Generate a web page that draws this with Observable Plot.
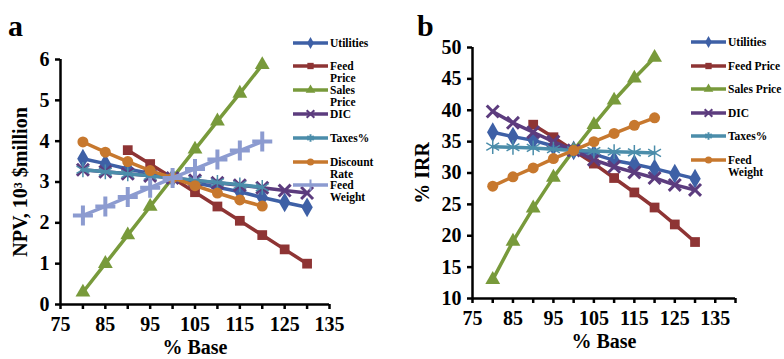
<!DOCTYPE html>
<html><head><meta charset="utf-8">
<script src="https://cdn.jsdelivr.net/npm/d3@7"></script>
<script src="https://cdn.jsdelivr.net/npm/@observablehq/plot@0.6"></script>
<style>
body{margin:0;background:#fff;}
#wrap{position:relative;width:784px;height:359px;overflow:hidden;font-family:"Liberation Serif","Times New Roman",serif;font-weight:bold;color:#000;}
.panel{position:absolute;top:0;width:392px;height:359px;}
.letter{position:absolute;font-size:30px;line-height:30px;}
.item{position:absolute;display:flex;align-items:flex-start;font-size:11.5px;line-height:12px;}
.item svg{flex:none;margin-top:-1px;}
</style></head>
<body><div id="wrap"></div>
<script>
// ---------- data ----------
const xFull  = [80, 85, 90, 95, 100, 105, 110, 115, 120, 125, 130];
const xShort = [80, 85, 90, 95, 100, 105, 110, 115, 120];
const xFeed  = [90, 95, 100, 105, 110, 115, 120, 125, 130];

const seriesA = ["Utilities", "Feed Price", "Sales Price", "DIC", "Taxes%", "Discount Rate", "Feed Weight"];
const npvUtilities  = [3.57, 3.45, 3.32, 3.21, 3.10, 2.98, 2.87, 2.76, 2.62, 2.50, 2.38];
const npvFeedPrice  = [3.78, 3.44, 3.10, 2.75, 2.40, 2.05, 1.70, 1.35, 1.00];
const npvSalesPrice = [0.30, 1.00, 1.70, 2.40, 3.10, 3.80, 4.49, 5.17, 5.87];
const npvDIC        = [3.30, 3.25, 3.20, 3.15, 3.10, 3.04, 2.98, 2.92, 2.86, 2.79, 2.73];
const npvTaxes      = [3.30, 3.25, 3.20, 3.15, 3.10, 3.04, 2.99, 2.93, 2.87];
const npvDiscount   = [3.98, 3.73, 3.50, 3.28, 3.10, 2.91, 2.73, 2.56, 2.41];
const npvFeedWeight = [2.18, 2.40, 2.63, 2.86, 3.10, 3.32, 3.55, 3.77, 3.99];

const seriesB = ["Utilities", "Feed Price", "Sales Price", "DIC", "Taxes%", "Feed Weight"];
const irrUtilities  = [36.5, 35.8, 35.2, 34.3, 33.6, 33.0, 32.0, 31.4, 30.7, 29.9, 29.1];
const irrFeedPrice  = [37.7, 35.7, 33.6, 31.5, 29.2, 26.9, 24.5, 21.8, 19.0];
const irrSalesPrice = [13.0, 19.1, 24.4, 29.3, 33.6, 37.7, 41.6, 45.1, 48.4];
const irrDIC        = [39.8, 38.0, 36.5, 35.0, 33.6, 32.1, 31.0, 30.1, 29.2, 28.1, 27.3];
const irrTaxes      = [34.2, 34.1, 34.0, 33.8, 33.6, 33.5, 33.4, 33.3, 33.2];
const irrFeedWeight = [27.9, 29.4, 30.8, 32.3, 33.6, 35.0, 36.3, 37.6, 38.8];

const xTicksA = [75, 80, 85, 90, 95, 100, 105, 110, 115, 120, 125, 130, 135];
const xTicksB = [75, 80, 85, 90, 95, 100, 105, 110, 115, 120, 125, 130, 135, 140];
const yTicksA = [0, 1, 2, 3, 4, 5, 6];
const yTicksB = [10, 15, 20, 25, 30, 35, 40, 45, 50];

// ---------- styles ----------
const sty = {
  "Utilities":     {color: "#3E60A6", symbol: "diamond",  r: 6,   filled: true},
  "Feed Price":    {color: "#8E3434", symbol: "square",   r: 5.5, filled: true},
  "Sales Price":   {color: "#789A3B", symbol: "triangle", r: 5.5, filled: true},
  "DIC":           {color: "#5C3C7E", symbol: "times",    r: 5.5, filled: false, sw: 3},
  "Taxes%":        {color: "#4B8DAA", symbol: "asterisk", r: 7,   filled: false, sw: 1.5},
  "Discount Rate": {color: "#C7782E", symbol: "circle",   r: 5.5, filled: true},
  "Feed Weight":   {color: "#8C9BD0", symbol: "plus",     r: 6.5, filled: false, sw: 4}
};
const styB = Object.assign({}, sty, {"Feed Weight": {color: "#C7782E", symbol: "circle", r: 5.5, filled: true}});

function rows(xs, ys, name) { return xs.map((x, i) => ({x, y: ys[i], name})); }
const dataA = [
  rows(xFull, npvUtilities, "Utilities"), rows(xFeed, npvFeedPrice, "Feed Price"),
  rows(xShort, npvSalesPrice, "Sales Price"), rows(xFull, npvDIC, "DIC"),
  rows(xShort, npvTaxes, "Taxes%"), rows(xShort, npvDiscount, "Discount Rate"),
  rows(xShort, npvFeedWeight, "Feed Weight")
];
const dataB = [
  rows(xFull, irrUtilities, "Utilities"), rows(xFeed, irrFeedPrice, "Feed Price"),
  rows(xShort, irrSalesPrice, "Sales Price"), rows(xFull, irrDIC, "DIC"),
  rows(xShort, irrTaxes, "Taxes%"), rows(xShort, irrFeedWeight, "Feed Weight")
];

const FONT = '"Liberation Serif","Times New Roman",serif';

function seriesMarks(data, styles) {
  const m = [];
  for (const d of data) {
    const s = styles[d[0].name];
    m.push(Plot.line(d, {x: "x", y: "y", stroke: s.color, strokeWidth: 3.5}));
    if (s.filled) m.push(Plot.dot(d, {x: "x", y: "y", symbol: s.symbol, r: s.r, fill: s.color, stroke: "none"}));
    else m.push(Plot.dot(d, {x: "x", y: "y", symbol: s.symbol, r: s.r, fill: "none", stroke: s.color, strokeWidth: s.sw}));
  }
  return m;
}

function makePlot(o) {
  return Plot.plot({
    width: 392, height: 359,
    marginLeft: o.ml, marginRight: o.mr, marginTop: o.mt, marginBottom: o.mb,
    style: {fontFamily: FONT, fontWeight: "bold", fontSize: "20px", background: "transparent", overflow: "visible", color: "#000"},
    x: {domain: o.xdom},
    y: {domain: o.ydom},
    marks: [
      Plot.axisX({ticks: o.xticks, tickSize: 5, tickPadding: 7, strokeWidth: 2.5, tickFormat: d => (d % 10 === 5 ? String(d) : ""), label: null}),
      Plot.axisY({ticks: o.yticks, tickSize: 5, tickPadding: 6, strokeWidth: 2.5, tickFormat: d => String(d), label: null}),
      ...seriesMarks(o.data, o.styles),
      Plot.ruleX([o.xdom[0]], {stroke: "#000", strokeWidth: 2.5}),
      Plot.ruleY([o.ydom[0]], {stroke: "#000", strokeWidth: 2.5, x1: o.xdom[0], x2: o.xdom[1]}),
      Plot.text([o.xlabel], {frameAnchor: "bottom", textAnchor: "middle", dy: o.xlabDy, fontSize: 20, fontWeight: "bold", fill: "#000"}),
      Plot.text([o.ylabel], {frameAnchor: "left", textAnchor: "middle", rotate: -90, dx: o.ylabDx, fontSize: 20, fontWeight: "bold", fill: "#000"})
    ]
  });
}

const wrap = document.getElementById("wrap");

function addPanel(left, letter, plot, legendNames, styles, lg) {
  const p = document.createElement("div");
  p.className = "panel"; p.style.left = left + "px";
  p.appendChild(plot);
  wrap.appendChild(p);
  const L = document.createElement("div");
  L.className = "letter"; L.textContent = letter;
  L.style.left = lg.letterX + "px"; L.style.top = "11px";
  wrap.appendChild(L);
  legendNames.forEach((name, i) => {
    const s = styles[name];
    const it = document.createElement("div");
    it.className = "item";
    const cy = lg.y0 + i * lg.step;
    it.style.left = lg.x + "px"; it.style.top = (cy - 6) + "px";
    const sw = d3.create("svg").attr("width", 37).attr("height", 14);
    sw.append("line").attr("x1", 0).attr("x2", 35).attr("y1", 7).attr("y2", 7)
      .attr("stroke", s.color).attr("stroke-width", 3.5);
    const sym = {diamond: d3.symbolDiamond, square: d3.symbolSquare, triangle: d3.symbolTriangle,
      times: d3.symbolTimes, asterisk: d3.symbolAsterisk, circle: d3.symbolCircle, plus: d3.symbolPlus}[s.symbol];
    const path = sw.append("path").attr("transform", "translate(17.5,7)")
      .attr("d", d3.symbol(sym, 40)());
    if (s.filled) path.attr("fill", s.color); else path.attr("fill", "none").attr("stroke", s.color).attr("stroke-width", 2);
    it.appendChild(sw.node());
    const t = document.createElement("div");
    t.textContent = name; t.style.width = lg.tw + "px";
    it.appendChild(t);
    wrap.appendChild(it);
  });
}

const plotA = makePlot({ml: 60, mr: 63, mt: 59, mb: 55, xdom: [75, 135], ydom: [0, 6],
  xticks: xTicksA, yticks: yTicksA, data: dataA, styles: sty,
  xlabel: "% Base", ylabel: "NPV, 10³ $million", ylabDx: -40, xlabDy: 49});
addPanel(0, "a", plotA, seriesA, sty, {letterX: 8, x: 293, y0: 42.5, step: 23.8, tw: 52});

const plotB = makePlot({ml: 80, mr: 49, mt: 47, mb: 61, xdom: [75, 140], ydom: [10, 50],
  xticks: xTicksB, yticks: yTicksB, data: dataB, styles: styB,
  xlabel: "% Base", ylabel: "% IRR", ylabDx: -50, xlabDy: 49});
addPanel(392, "b", plotB, seriesB, styB, {letterX: 417, x: 691, y0: 42, step: 23.6, tw: 60});
</script></body></html>
